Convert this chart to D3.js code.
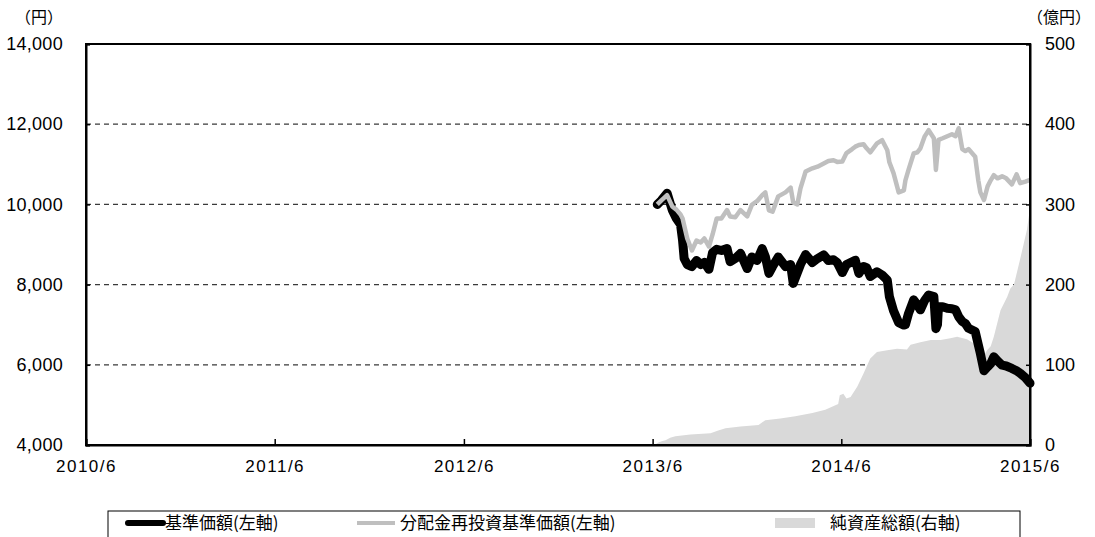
<!DOCTYPE html>
<html>
<head>
<meta charset="utf-8">
<script src="https://cdn.jsdelivr.net/npm/d3@7"></script>
<style>
  html, body { margin: 0; padding: 0; background: #ffffff; }
  svg { display: block; }
</style>
</head>
<body>
<svg id="chart" width="1095" height="537" font-family="'Noto Sans CJK JP', 'Noto Sans', sans-serif"></svg>
<script>
// 基準価額・分配金再投資基準価額 (円) — common dates
const navDates = [
  "2013-06-10","2013-06-18","2013-06-29","2013-07-09","2013-07-17","2013-07-25","2013-07-29","2013-08-01",
  "2013-08-07","2013-08-16","2013-08-25","2013-09-02","2013-09-09","2013-09-18","2013-09-25","2013-10-03",
  "2013-10-12","2013-10-23","2013-10-29","2013-11-08","2013-11-18","2013-12-01","2013-12-10","2013-12-20",
  "2013-12-30","2014-01-05","2014-01-12","2014-01-19","2014-01-30","2014-02-13","2014-02-23","2014-02-28",
  "2014-03-08","2014-03-14","2014-03-24","2014-04-06","2014-04-16","2014-04-28","2014-05-07","2014-05-17",
  "2014-05-24","2014-06-03","2014-06-11","2014-06-22","2014-06-28","2014-07-05","2014-07-14","2014-07-20",
  "2014-07-27","2014-08-09","2014-08-19","2014-08-29","2014-09-02","2014-09-10","2014-09-20","2014-09-30",
  "2014-10-03","2014-10-09","2014-10-19","2014-10-26","2014-11-01","2014-11-09","2014-11-17","2014-11-27",
  "2014-12-01","2014-12-04","2014-12-06","2014-12-14","2014-12-23","2015-01-01","2015-01-08","2015-01-14",
  "2015-01-21","2015-01-27","2015-02-02","2015-02-15","2015-02-21","2015-02-25","2015-03-04","2015-03-11",
  "2015-03-17","2015-03-23","2015-03-30","2015-04-08","2015-04-16","2015-04-27","2015-05-06","2015-05-13",
  "2015-05-23","2015-06-01"
];
const navValues = [
  10000,10100,10280,9860,9650,9500,9100,8650,
  8500,8450,8600,8500,8550,8380,8800,8880,
  8850,8900,8570,8650,8780,8400,8690,8600,
  8900,8700,8280,8450,8690,8450,8500,8030,
  8300,8500,8750,8550,8650,8740,8600,8620,
  8550,8300,8500,8570,8610,8280,8450,8420,
  8200,8320,8240,8110,7700,7350,7050,6990,
  7000,7280,7620,7500,7370,7600,7740,7700,
  6900,7000,7450,7450,7410,7400,7370,7200,
  7080,7030,6910,6830,6500,6280,5850,5950,
  6030,6200,6100,5990,5970,5910,5850,5790,
  5680,5540
];
const reinvestValues = [
  10000,10100,10230,9950,9870,9750,9650,9480,
  9150,8850,9100,9050,9150,8950,9250,9650,
  9650,9860,9700,9680,9860,9700,9990,10080,
  10230,10300,9850,9820,10200,10300,10420,10050,
  10000,10400,10820,10900,10940,11020,11080,11100,
  11060,11070,11280,11380,11440,11480,11500,11400,
  11300,11520,11600,11350,11050,10780,10300,10350,
  10600,10860,11270,11300,11400,11690,11850,11650,
  10860,11300,11610,11650,11700,11750,11700,11900,
  11380,11330,11380,11190,10600,10300,10110,10450,
  10600,10730,10650,10700,10650,10500,10750,10530,
  10570,10610
];

// 純資産総額 (億円)
const assetDates = [
  "2013-06-05","2013-06-12","2013-06-20","2013-06-26","2013-07-05","2013-07-15","2013-08-13","2013-09-21",
  "2013-10-06","2013-10-20","2013-11-18","2013-12-23","2014-01-05","2014-02-03","2014-03-04","2014-04-06",
  "2014-05-01","2014-05-26","2014-05-29","2014-06-05","2014-06-11","2014-06-19","2014-07-02","2014-07-08",
  "2014-07-14","2014-07-27","2014-08-09","2014-08-29","2014-09-17","2014-10-06","2014-10-13","2014-11-01",
  "2014-11-21","2014-12-10","2014-12-29","2015-01-11","2015-01-30","2015-02-12","2015-02-25","2015-03-04",
  "2015-03-10","2015-03-17","2015-03-23","2015-04-05","2015-04-18","2015-04-24","2015-05-01","2015-05-13",
  "2015-05-26","2015-06-01"
];
const assetValues = [
  0,3,5,6,9,11,13,14.5,
  18,21,23,25,31,33,36,40,
  44,51,62,64,58,60,73,81,
  89,108,116,118,120,119,125,128,
  131,131,133,135,132,127,110,112,
  118,123,135,168,185,195,200,232,
  268,295
];

// axis ticks
const xTickDates = ["2010-06-01","2011-06-01","2012-06-01","2013-06-01","2014-06-01","2015-06-01"];
const xTickLabels = ["2010/6","2011/6","2012/6","2013/6","2014/6","2015/6"];
const leftTicks = [4000, 6000, 8000, 10000, 12000, 14000];
const rightTicks = [0, 100, 200, 300, 400, 500];
const gridTicks = [6000, 8000, 10000, 12000];

const legendLabels = ["基準価額(左軸)", "分配金再投資基準価額(左軸)", "純資産総額(右軸)"];

const parse = d3.timeParse("%Y-%m-%d");
const margin = { left: 86, right: 65, top: 44, bottom: 92 };
const W = 1095, H = 537;
const plotW = W - margin.left - margin.right;
const plotH = H - margin.top - margin.bottom;
const NUM_FONT = "'Liberation Sans', Arial, sans-serif";

const svg = d3.select("#chart");

const x = d3.scaleTime()
  .domain([parse(xTickDates[0]), parse(xTickDates[xTickDates.length - 1])])
  .range([margin.left, margin.left + plotW]);
const yL = d3.scaleLinear().domain([4000, 14000]).range([margin.top + plotH, margin.top]);
const yR = d3.scaleLinear().domain([0, 500]).range([margin.top + plotH, margin.top]);

const nav = navDates.map((d, i) => ({ date: parse(d), nav: navValues[i], re: reinvestValues[i] }));
const assets = assetDates.map((d, i) => ({ date: parse(d), v: assetValues[i] }));

// dashed gridlines
svg.append("g").selectAll("line").data(gridTicks).join("line")
  .attr("x1", margin.left).attr("x2", margin.left + plotW)
  .attr("y1", d => yL(d)).attr("y2", d => yL(d))
  .attr("stroke", "#3a3a3a").attr("stroke-width", 1.3)
  .attr("stroke-dasharray", "5,4");

// net assets area
svg.append("path").datum(assets)
  .attr("fill", "#d9d9d9")
  .attr("d", d3.area().x(d => x(d.date)).y0(yR(0)).y1(d => yR(d.v)));

// NAV line
svg.append("path").datum(nav)
  .attr("fill", "none").attr("stroke", "#000").attr("stroke-width", 9)
  .attr("stroke-linejoin", "round").attr("stroke-linecap", "round")
  .attr("d", d3.line().x(d => x(d.date)).y(d => yL(d.nav)));

// reinvested NAV line
svg.append("path").datum(nav)
  .attr("fill", "none").attr("stroke", "#bfbfbf").attr("stroke-width", 4.5)
  .attr("stroke-linejoin", "round")
  .attr("d", d3.line().x(d => x(d.date)).y(d => yL(d.re)));

// frame
svg.append("rect")
  .attr("x", margin.left).attr("y", margin.top)
  .attr("width", plotW).attr("height", plotH)
  .attr("fill", "none").attr("stroke", "#000").attr("stroke-width", 2);

// axes
const xAxis = d3.axisBottom(x)
  .tickValues(xTickDates.map(parse))
  .tickFormat((d, i) => xTickLabels[i])
  .tickSize(-6).tickPadding(15);
const gx = svg.append("g").attr("transform", `translate(0,${margin.top + plotH})`).call(xAxis);

const yAxisL = d3.axisLeft(yL).tickValues(leftTicks).tickFormat(d3.format(",")).tickSize(-4).tickPadding(23);
const gl = svg.append("g").attr("transform", `translate(${margin.left},0)`).call(yAxisL);

const yAxisR = d3.axisRight(yR).tickValues(rightTicks).tickFormat(d3.format("d")).tickSize(-4).tickPadding(15);
const gr = svg.append("g").attr("transform", `translate(${margin.left + plotW},0)`).call(yAxisR);

[gx, gl, gr].forEach(g => {
  g.attr("font-family", NUM_FONT);
  g.select(".domain").attr("stroke", "#000").attr("stroke-width", 2);
  g.selectAll(".tick line").attr("stroke", "#000").attr("stroke-width", 1.5);
  g.selectAll(".tick text").attr("font-size", 18).attr("fill", "#000");
});
gx.selectAll(".tick text").attr("font-size", 17).attr("letter-spacing", "1.5px");
gl.selectAll(".tick text").attr("letter-spacing", "0.3px");

// unit labels
svg.append("text").attr("x", 15).attr("y", 23).attr("font-size", 16).text("（円）");
svg.append("text").attr("x", 1027).attr("y", 23).attr("font-size", 16).text("（億円）");

// legend
const lg = svg.append("g");
lg.append("rect").attr("x", 108).attr("y", 511).attr("width", 912).attr("height", 40)
  .attr("fill", "#fff").attr("stroke", "#000").attr("stroke-width", 1);
const ly = 523;
lg.append("line").attr("x1", 128).attr("x2", 163).attr("y1", ly).attr("y2", ly)
  .attr("stroke", "#000").attr("stroke-width", 6).attr("stroke-linecap", "round");
lg.append("text").attr("x", 165).attr("y", ly).attr("dy", "0.35em").attr("font-size", 17).text(legendLabels[0]);
lg.append("line").attr("x1", 357).attr("x2", 395).attr("y1", ly).attr("y2", ly)
  .attr("stroke", "#bfbfbf").attr("stroke-width", 4);
lg.append("text").attr("x", 400).attr("y", ly).attr("dy", "0.35em").attr("font-size", 17).text(legendLabels[1]);
lg.append("rect").attr("x", 775).attr("y", ly - 5).attr("width", 40).attr("height", 10).attr("fill", "#d9d9d9");
lg.append("text").attr("x", 830).attr("y", ly).attr("dy", "0.35em").attr("font-size", 17).text(legendLabels[2]);
</script>
</body>
</html>
